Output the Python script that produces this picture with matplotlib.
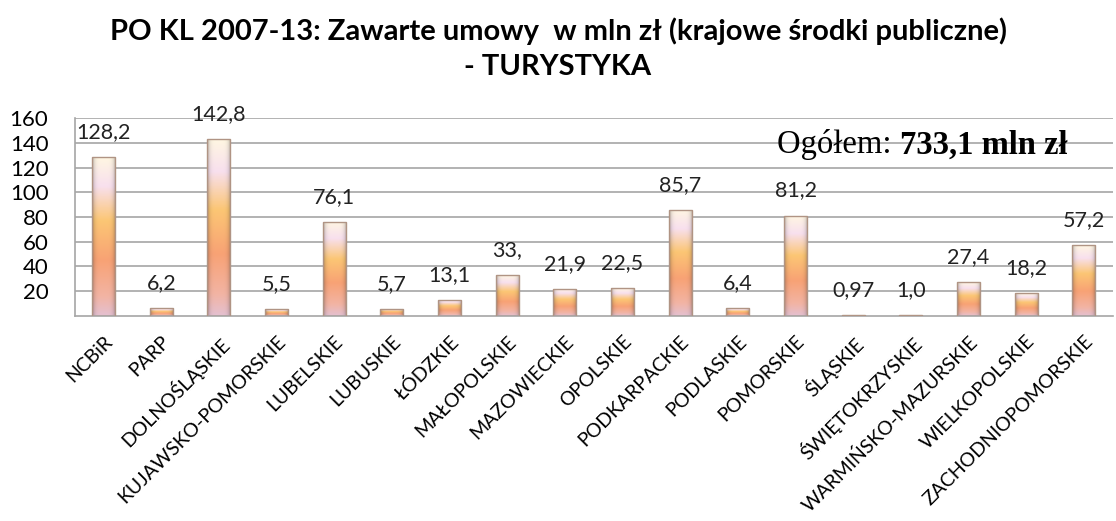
import matplotlib
matplotlib.use('Agg')
import matplotlib.pyplot as plt
import numpy as np
from matplotlib.colors import LinearSegmentedColormap

regions = ['NCBiR', 'PARP', 'DOLNOŚLĄSKIE', 'KUJAWSKO-POMORSKIE', 'LUBELSKIE',
           'LUBUSKIE', 'ŁÓDZKIE', 'MAŁOPOLSKIE', 'MAZOWIECKIE', 'OPOLSKIE',
           'PODKARPACKIE', 'PODLASKIE', 'POMORSKIE', 'ŚLĄSKIE', 'ŚWIĘTOKRZYSKIE',
           'WARMIŃSKO-MAZURSKIE', 'WIELKOPOLSKIE', 'ZACHODNIOPOMORSKIE']
values = [128.2, 6.2, 142.8, 5.5, 76.1, 5.7, 13.1, 33.0, 21.9, 22.5,
          85.7, 6.4, 81.2, 0.97, 1.0, 27.4, 18.2, 57.2]
value_labels = ['128,2', '6,2', '142,8', '5,5', '76,1', '5,7', '13,1', '33,',
                '21,9', '22,5', '85,7', '6,4', '81,2', '0,97', '1,0', '27,4',
                '18,2', '57,2']
yticks = [20, 40, 60, 80, 100, 120, 140, 160]

plt.rcParams['font.family'] = ['Lato', 'DejaVu Sans']

fig = plt.figure(figsize=(11.16, 5.21), dpi=100)
ax = fig.add_axes([0.067, 0.3935, 0.93, 0.38])

x = np.arange(len(values))
bars = ax.bar(x, values, width=0.4, facecolor='none', edgecolor='#b09484',
              linewidth=1.0, zorder=3)

# vertical gradient (bottom -> top), same for every bar
grad = LinearSegmentedColormap.from_list('g', [
    (0.0, '#e4c0d0'), (0.12, '#f2b4a4'), (0.35, '#f8a275'),
    (0.6, '#fcc674'), (0.82, '#f8e0ee'), (1.0, '#fff6e2')])
t = np.linspace(0, 1, 200)[:, None]
u = np.linspace(-1, 1, 40)[None, :]
rgb = grad(t * np.ones_like(u))[..., :3]
shade = 1 - 0.3 * np.abs(u) ** 5
img = rgb * shade[..., None]

for b in bars:
    x0, w, h = b.get_x(), b.get_width(), b.get_height()
    im = ax.imshow(img, extent=[x0, x0 + w, 0, h], origin='lower',
                   aspect='auto', zorder=2)
    im.set_clip_path(b)

for xi, v, lab in zip(x, values, value_labels):
    ax.annotate(lab, (xi, v), xytext=(0, 18), textcoords='offset points',
                ha='center', va='center', fontsize=15.5, color='#222222')

ax.set_xlim(-0.5, len(values) - 0.5)
ax.set_ylim(0, 160)
ax.set_yticks(yticks)
ax.set_yticklabels([str(v) for v in yticks], fontsize=16)
ax.set_xticks(x)
ax.set_xticklabels(regions, rotation=45, ha='right', rotation_mode='anchor',
                   fontsize=14)
ax.tick_params(length=0)
ax.tick_params(axis='y', pad=19)
ax.tick_params(axis='x', pad=12)
ax.grid(axis='y', color='#a6a6a6', linewidth=1.2, zorder=0)
ax.set_axisbelow(True)
for s in ['top', 'right']:
    ax.spines[s].set_visible(False)
for s in ['left', 'bottom']:
    ax.spines[s].set_color('#a6a6a6')
    ax.spines[s].set_linewidth(1.2)

fig.text(0.5, 0.94, 'PO KL 2007-13: Zawarte umowy  w mln zł (krajowe środki publiczne)',
         ha='center', va='center', fontsize=21, fontweight='bold')
fig.text(0.5, 0.872, '- TURYSTYKA', ha='center', va='center', fontsize=21,
         fontweight='bold')

t1 = ax.text(0.677, 0.864, 'Ogółem: ', transform=ax.transAxes, ha='left',
             va='center', fontsize=23.5, family='Liberation Serif')
ax.annotate('733,1 mln zł', xycoords=t1, xy=(1, 0.5), va='center', ha='left',
            fontsize=23.5, family='Liberation Serif', fontweight='bold')

fig.savefig('out.png', dpi=100)
